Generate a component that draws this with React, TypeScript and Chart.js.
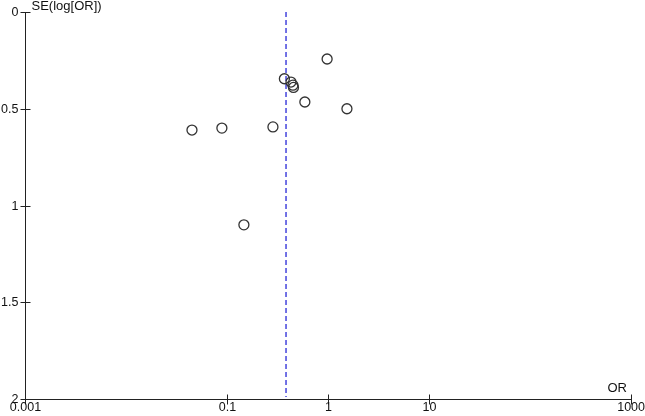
import React, { useEffect, useRef } from "react";
import { Chart, registerables } from "chart.js";

Chart.register(...registerables);

const studyOR = [0.98, 0.37, 0.43, 0.45, 0.455, 0.59, 1.54, 0.045, 0.089, 0.285, 0.147];
const studySE = [0.243, 0.345, 0.362, 0.378, 0.39, 0.465, 0.50, 0.61, 0.60, 0.594, 1.10];
const pooledOR = 0.384;
const xTicks = [0.001, 0.1, 1, 10, 1000];
const xTickLabels = ["0.001", "0.1", "1", "10", "1000"];
const yTicks = [0, 0.5, 1, 1.5, 2];
const yTickLabels = ["0", "0.5", "1", "1.5", "2"];

const axisPlugin = {
  id: "funnelAxes",
  afterDraw(chart: any) {
    const ctx = chart.ctx;
    const xs = chart.scales.x;
    const ys = chart.scales.y;
    const area = chart.chartArea;
    const x0 = Math.round(area.left) + 0.5;
    const y0 = Math.round(area.bottom) + 0.5;
    ctx.save();
    ctx.strokeStyle = "#222";
    ctx.lineWidth = 1;
    ctx.beginPath();
    ctx.moveTo(x0, Math.round(area.top));
    ctx.lineTo(x0, y0);
    ctx.lineTo(Math.round(area.right) + 0.5, y0);
    ctx.stroke();
    ctx.fillStyle = "#111";
    ctx.font = "12.5px 'Liberation Sans', Arial, sans-serif";
    // x ticks
    xTicks.forEach((v, i) => {
      const px = Math.round(xs.getPixelForValue(v)) + 0.5;
      ctx.beginPath();
      ctx.moveTo(px, y0 - 5);
      ctx.lineTo(px, y0 + 5);
      ctx.stroke();
      const label = xTickLabels[i];
      const w = ctx.measureText(label).width;
      let lx = px - w / 2;
      if (lx < 5) lx = 5;
      if (lx + w > chart.width) lx = chart.width - w;
      ctx.textAlign = "left";
      ctx.textBaseline = "top";
      ctx.fillText(label, lx, y0 + 2);
    });
    // y ticks
    yTicks.forEach((v, i) => {
      const py = Math.round(ys.getPixelForValue(v)) + 0.5;
      ctx.beginPath();
      ctx.moveTo(x0 - 5, py);
      ctx.lineTo(x0 + 5, py);
      ctx.stroke();
      ctx.textAlign = "right";
      ctx.textBaseline = "middle";
      ctx.fillText(yTickLabels[i], x0 - 7, py);
    });
    // axis titles
    ctx.font = "13px 'Liberation Sans', Arial, sans-serif";
    ctx.textAlign = "left";
    ctx.textBaseline = "middle";
    ctx.fillText("SE(log[OR])", x0 + 6, area.top - 6);
    ctx.textAlign = "right";
    ctx.fillText("OR", area.right - 4, y0 - 11);
    ctx.restore();
  },
};

export default function App() {
  const ref = useRef<HTMLCanvasElement>(null);
  useEffect(() => {
    if (!ref.current) return;
    const chart = new Chart(ref.current, {
      type: "scatter",
      data: {
        datasets: [
          {
            data: studyOR.map((o, i) => ({ x: o, y: studySE[i] })),
            pointRadius: 5,
            pointBorderWidth: 1.3,
            pointBorderColor: "#333",
            pointBackgroundColor: "rgba(0,0,0,0)",
            showLine: false,
          },
          {
            data: [
              { x: pooledOR, y: 0 },
              { x: pooledOR, y: 1.99 },
            ],
            showLine: true,
            borderColor: "#0000d0",
            borderWidth: 1.1,
            borderDash: [5, 3],
            pointRadius: 0,
          },
        ],
      },
      options: {
        animation: false,
        responsive: false,
        maintainAspectRatio: false,
        layout: { padding: { left: 25, right: 14, top: 12, bottom: 17 } },
        plugins: { legend: { display: false }, tooltip: { enabled: false } },
        scales: {
          x: { type: "logarithmic", min: 0.001, max: 1000, display: false },
          y: { type: "linear", min: 0, max: 2, reverse: true, display: false },
        },
      },
      plugins: [axisPlugin],
    });
    return () => chart.destroy();
  }, []);
  return (
    <div style={{ position: "absolute", left: 0, top: 0, width: 645, height: 416, background: "#fff" }}>
      <canvas ref={ref} width={645} height={416} style={{ width: 645, height: 416 }} />
    </div>
  );
}
